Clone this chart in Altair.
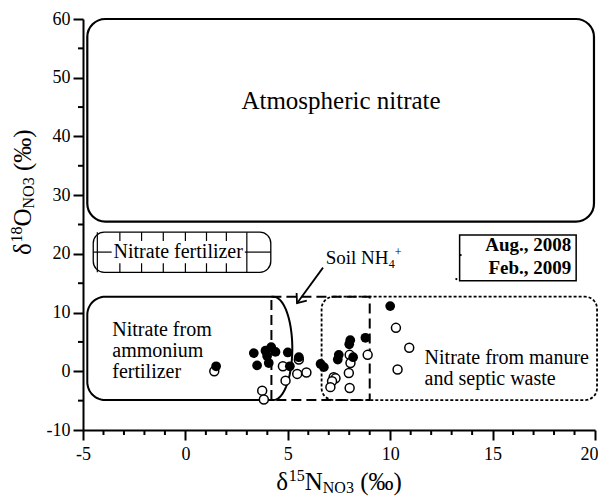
import math
import altair as alt
import numpy as np
import pandas as pd

# ---------------- data ----------------
aug_d15n = [1.5, 3.34, 3.5, 3.91, 3.99, 4.19, 4.4, 4.07, 5.0, 5.1, 5.54, 6.6, 6.76,
            7.49, 7.44, 8.05, 8.0, 8.19, 8.79, 10.0]
aug_d18o = [0.85, 3.1, 1.0, 3.5, 2.6, 4.1, 3.3, 1.4, 3.2, 0.85, 2.4, 1.25, 0.7,
            2.8, 2.0, 5.3, 4.6, 2.4, 5.7, 11.1]
feb_d15n = [1.41, 3.75, 3.83, 4.76, 4.89, 5.54, 5.46, 5.91, 7.24, 7.33, 7.16, 7.08,
            8.02, 8.06, 7.98, 8.02, 8.9, 10.28, 10.93, 10.36]
feb_d18o = [0.0, -3.3, -4.8, 0.85, -1.6, 2.0, -0.45, -0.2, -1.0, -1.2, -1.7, -2.7,
            2.8, 1.4, -0.3, -2.85, 2.8, 7.4, 4.0, 0.3]

x_major = [-5, 0, 5, 10, 15, 20]
x_minor = [v for v in range(-5, 21) if v % 5]
y_major = [-10, 0, 10, 20, 30, 40, 50, 60]
y_minor = [-5, 5, 15, 25, 35, 45, 55]

legend_labels = ["Aug., 2008", "Feb., 2009"]

# source regions (data units)
atm = {"x0": -4.79, "x1": 19.95, "y0": 25.5, "y1": 60.0}
nf = {"x0": -4.5, "x1": 4.17, "y0": 16.85, "y1": 23.7}
soil = {"x0": 4.2, "x1": 9.0, "y0": -4.9, "y1": 12.7}
manure = {"x0": 6.65, "x1": 20.1, "y0": -4.9, "y1": 12.7}
amm = {"x0": -4.79, "xr": 4.3, "y0": -4.9, "y1": 12.7, "bulge": 0.92}
nf_grid_x = [-4.3, -3.2, -2.14, -1.08, 0.0, 1.03, 2.0, 3.0]
nf_text = {"x": -0.35, "y": 20.3, "gap_top": 22.2, "gap_bot": 18.4, "tx0": -3.6, "tx1": 2.9}
legend_box = {"x0": 13.39, "x1": 19.08, "y0": 15.43, "y1": 23.2}
legend_text_x = 18.84
legend_text_y = [21.5, 17.6]
legend_dot_x = [13.44, 13.23]
legend_dot_y = [19.8, 15.7]
arrow = {"x0": 6.72, "y0": 17.65, "x1": 5.45, "y1": 11.6}

FONT = "Liberation Serif, Times New Roman, serif"
W, H = 512, 411
X_PX = W / 25.0
Y_PX = H / 70.0

xs = alt.Scale(domain=[-5, 20], nice=False, zero=False)
ys = alt.Scale(domain=[-10, 60], nice=False, zero=False)

x_axis = alt.Axis(values=x_major, title=None, tickSize=10, tickWidth=2, tickColor="black",
                  domainColor="black", domainWidth=2, labelFont=FONT, labelFontSize=18,
                  labelColor="black", labelPadding=5, labelFlush=False, labelOverlap=False,
                  labelAlign={"condition": {"test": "datum.value == 20", "value": "right"},
                              "value": "center"},
                  labelOffset={"condition": {"test": "datum.value == 20", "value": 3},
                               "value": 0},
                  grid=False, labelExpr="'' + datum.value")
y_axis = alt.Axis(values=y_major, title=None, tickSize=10, tickWidth=2, tickColor="black",
                  domainColor="black", domainWidth=2, labelFont=FONT, labelFontSize=18,
                  labelColor="black", labelPadding=3, labelFlush=False, labelOverlap=False,
                  grid=False, labelExpr="'' + datum.value")


def XQ(f):
    return alt.X(f"{f}:Q", scale=xs, axis=x_axis)


def YQ(f):
    return alt.Y(f"{f}:Q", scale=ys, axis=y_axis)


def box(b, radius=0, width=2.0, dash=None):
    props = dict(fillOpacity=0, stroke="black", strokeWidth=width, cornerRadius=radius)
    if dash:
        props["strokeDash"] = dash
    return alt.Chart(pd.DataFrame([b])).mark_rect(**props).encode(
        x=XQ("x0"), x2="x1", y=YQ("y0"), y2="y1")


def segs(rows, width=1.2, dash=None):
    props = dict(color="black", strokeWidth=width)
    if dash:
        props["strokeDash"] = dash
    return alt.Chart(pd.DataFrame(rows, columns=["x0", "y0", "x1", "y1"])).mark_rule(**props).encode(
        x=XQ("x0"), y=YQ("y0"), x2="x1", y2="y1")


def label(text, x, y, size=20, align="left", weight="normal"):
    return alt.Chart(pd.DataFrame({"x": [x], "y": [y], "t": [text]})).mark_text(
        font=FONT, fontSize=size, align=align, baseline="middle", color="black",
        fontWeight=weight).encode(x=XQ("x"), y=YQ("y"), text="t:N")


def piece(text, px, py, size, dx, dy, angle=0):
    return alt.Chart(pd.DataFrame({"t": [text]})).mark_text(
        font=FONT, fontSize=size, align="left", baseline="alphabetic", color="black",
        dx=dx, dy=dy, angle=angle).encode(x=alt.value(px), y=alt.value(py), text="t:N")


layers = []

# ---- boxes ----
layers.append(box(atm, radius=18, width=2.2))
layers.append(box(nf, radius=11, width=1.3))

# nitrate fertilizer hatch
rows = []
for i, gx in enumerate(nf_grid_x):
    if i == 0 or i == len(nf_grid_x) - 1:
        rows.append([gx, nf["y0"], gx, nf["y1"]])
    else:
        rows.append([gx, nf_text["gap_top"], gx, nf["y1"]])
        rows.append([gx, nf["y0"], gx, nf_text["gap_bot"]])
rows.append([nf["x0"], nf_text["y"], nf_text["tx0"], nf_text["y"]])
rows.append([nf_text["tx1"], nf_text["y"], nf["x1"], nf_text["y"]])
layers.append(segs(rows, width=1.2))

# soil NH4 dashed box
layers.append(box(soil, radius=0, width=2.0, dash=[10, 5]))
# manure dotted box
layers.append(box(manure, radius=12, width=1.8, dash=[3, 2]))

# ammonium fertilizer outline (rounded left, half-ellipse right)
cx = 18 / X_PX
cy = 18 / Y_PX
px, py = [amm["xr"]], [amm["y1"]]
for t in np.radians(np.linspace(90, 180, 14)):
    px.append(amm["x0"] + cx + cx * math.cos(t))
    py.append(amm["y1"] - cy + cy * math.sin(t))
for t in np.radians(np.linspace(180, 270, 14)):
    px.append(amm["x0"] + cx + cx * math.cos(t))
    py.append(amm["y0"] + cy + cy * math.sin(t))
ymid = (amm["y0"] + amm["y1"]) / 2
ry = (amm["y1"] - amm["y0"]) / 2
for t in np.radians(np.linspace(-90, 90, 40)):
    px.append(amm["xr"] + amm["bulge"] * math.cos(t))
    py.append(ymid + ry * math.sin(t))
amm_df = pd.DataFrame({"x": px, "y": py, "i": range(len(px))})
layers.append(alt.Chart(amm_df).mark_line(color="black", strokeWidth=2.0).encode(
    x=XQ("x"), y=YQ("y"), order="i:Q"))

# ---- annotation texts ----
layers.append(label("Atmospheric nitrate", 7.6, 46.0, size=25, align="center"))
layers.append(label("Nitrate fertilizer", nf_text["x"], nf_text["y"], size=20, align="center"))
for t, yy in zip(["Nitrate from", "ammonium", "fertilizer"], [7.1, 3.5, -0.1]):
    layers.append(label(t, -3.57, yy, size=20))
for t, yy in zip(["Nitrate from manure", "and septic waste"], [2.25, -1.25]):
    layers.append(label(t, 11.68, yy, size=20))

# Soil NH4+ label with sub/superscript
soil_df = pd.DataFrame({"x": [6.85], "y": [18.2]})
for t, size, dx, dy in [("Soil NH", 19, 0, 0), ("4", 12, 63, 4), ("+", 12, 69, -8)]:
    layers.append(alt.Chart(soil_df.assign(t=t)).mark_text(
        font=FONT, fontSize=size, align="left", baseline="alphabetic", color="black",
        dx=dx, dy=dy).encode(x=XQ("x"), y=YQ("y"), text="t:N"))

# arrow
layers.append(segs([[arrow["x0"], arrow["y0"], arrow["x1"], arrow["y1"]]], width=1.8))
dxp = (arrow["x1"] - arrow["x0"]) * X_PX
dyp = -(arrow["y1"] - arrow["y0"]) * Y_PX
ang = math.degrees(math.atan2(dxp, -dyp)) % 360
layers.append(alt.Chart(pd.DataFrame({"x": [arrow["x1"]], "y": [arrow["y1"]]})).mark_point(
    shape="M-0.8,1L0,0L0.8,1", angle=ang, size=250, filled=False, stroke="black",
    strokeWidth=1.8, opacity=1).encode(x=XQ("x"), y=YQ("y")))

# ---- legend ----
layers.append(box(legend_box, radius=0, width=1.5))
for t, yy in zip(legend_labels, legend_text_y):
    layers.append(label(t, legend_text_x, yy, size=19, align="right", weight="bold"))
layers.append(alt.Chart(pd.DataFrame({"x": legend_dot_x, "y": legend_dot_y})).mark_circle(
    size=5, color="black", opacity=1).encode(x=XQ("x"), y=YQ("y")))

# ---- minor ticks ----
layers.append(alt.Chart(pd.DataFrame({"v": x_minor})).mark_rule(color="black", strokeWidth=2).encode(
    x=XQ("v"), y=alt.value(H), y2=alt.value(H + 5)))
layers.append(alt.Chart(pd.DataFrame({"v": y_minor})).mark_rule(color="black", strokeWidth=2).encode(
    y=YQ("v"), x=alt.value(0), x2=alt.value(-5)))

# ---- data points ----
feb = pd.DataFrame({"x": feb_d15n, "y": feb_d18o, "s": legend_labels[1]})
aug = pd.DataFrame({"x": aug_d15n, "y": aug_d18o, "s": legend_labels[0]})
layers.append(alt.Chart(feb).mark_circle(size=80, fill="white", stroke="black",
                                         strokeWidth=1.5, opacity=1).encode(x=XQ("x"), y=YQ("y")))
layers.append(alt.Chart(aug).mark_circle(size=95, color="black", opacity=1).encode(
    x=XQ("x"), y=YQ("y")))

# ---- axis titles (mixed super/subscripts) ----
F, f = 25, 16
widths = [0.5 * F, 1.0 * f, 0.722 * F, (0.722 + 0.722 + 0.5) * f + 0.25 * F,
          (0.333 + 1.0 + 0.333) * F]
offs = [sum(widths[:i]) for i in range(len(widths))]
total = sum(widths)
xt_x, xt_y = W / 2 - total / 2, 471
for (t, size, dy), dx in zip([("δ", F, 0), ("15", f, -9), ("N", F, 0), ("NO3", f, 3), ("(‰)", F, 0)], offs):
    layers.append(piece(t, xt_x, xt_y, size, dx, dy))
yt_x, yt_y = -52, 236
for (t, size, dy), dx in zip([("δ", F, 0), ("18", f, -9), ("O", F, 0), ("NO3", f, 3), ("(‰)", F, 0)], offs):
    layers.append(piece(t, yt_x, yt_y, size, dx, dy, angle=270))

chart = alt.layer(*layers).properties(
    width=W, height=H, autosize=alt.AutoSizeParams(type="none"),
    padding={"left": 75, "top": 11, "right": 3, "bottom": 66},
    background="white",
).configure_view(strokeWidth=0)

chart.save("out.html", embed_options={"renderer": "svg", "actions": False})
